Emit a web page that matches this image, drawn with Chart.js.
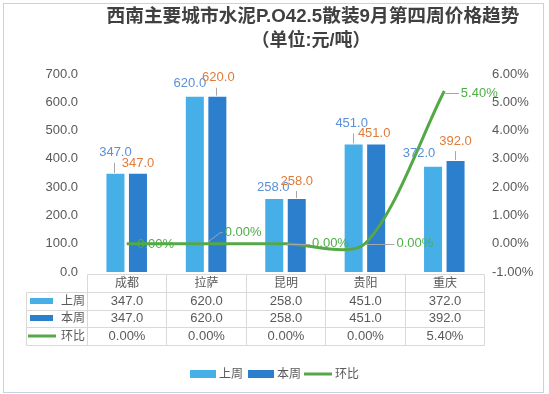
<!DOCTYPE html>
<html><head><meta charset="utf-8">
<script src="https://cdn.jsdelivr.net/npm/chart.js@4/dist/chart.umd.min.js"></script>
<style>html,body{margin:0;padding:0;background:#fff}#wrap{width:549px;height:394px;position:relative}canvas{display:block}</style>
</head><body><div id="wrap"><canvas id="c" width="549" height="394"></canvas></div>
<script>
// ---- data ----
const categories = ['成都', '拉萨', '昆明', '贵阳', '重庆'];
const lastWeek = [347.0, 620.0, 258.0, 451.0, 372.0];
const thisWeek = [347.0, 620.0, 258.0, 451.0, 392.0];
const changePct = [0.00, 0.00, 0.00, 0.00, 5.40];
const seriesNames = ['上周', '本周', '环比'];
const titleLines = ['西南主要城市水泥P.O42.5散装9月第四周价格趋势', '（单位:元/吨）'];
const leftAxis = { min: 0, max: 700, step: 100 };
const rightAxis = { min: -1, max: 6, step: 1 };

// ---- presentation ----
const C_LIGHT = '#47AFE8', C_DARK = '#2B7FCD', C_GREEN = '#55A847';
const C_TXT = '#595959', C_GRID = '#d9d9d9', C_LEAD = '#a6a6a6';
const LBL_BLUE = '#5B8FD6', LBL_ORANGE = '#E07B39', LBL_GREEN = '#4FAE48';
const FONT = 'Helvetica, Arial, "Liberation Sans", "Noto Sans CJK SC", sans-serif';
// label offsets [dx, dy, leader]
const offLast = [[0,-21,1],[-5,-13,0],[-1,-12,0],[-2,-21,1],[-14,-13,0]];
const offThis = [[0,-10,0],[1,-19,1],[0,-18,1],[-2,-11,0],[0,-20,1]];
const offLine = [[29,1,0],[37,-11,2],[45,0,1],[50,0,1],[35,2,1]];

const fmt1 = v => v.toFixed(1);
const fmtP = v => v.toFixed(2) + '%';

const decor = {
  id: 'decor',
  beforeDraw(chart) {
    const c = chart.ctx;
    c.save();
    c.fillStyle = '#fff';
    c.fillRect(0, 0, chart.width, chart.height);
    c.strokeStyle = '#c3d2e4';
    c.lineWidth = 1;
    c.strokeRect(3.5, 3.5, 540, 389);
    c.restore();
  },
  afterDraw(chart) {
    const c = chart.ctx;
    const xs = chart.scales.x;
    const area = chart.chartArea;
    c.save();
    // title
    c.fillStyle = '#404040';
    c.textAlign = 'center';
    c.textBaseline = 'middle';
    c.font = 'bold 18.7px ' + FONT;
    c.fillText(titleLines[0], 313, 17);
    c.font = 'bold 18px ' + FONT;
    c.fillText(titleLines[1], 311, 41);

    // data labels for bars
    c.font = '13px ' + FONT;
    const drawBarLabels = (dsIndex, vals, offs, color) => {
      const meta = chart.getDatasetMeta(dsIndex);
      meta.data.forEach((el, i) => {
        const [dx, dy, lead] = offs[i];
        const lx = el.x + dx, ly = el.y + dy;
        if (lead) {
          c.strokeStyle = C_LEAD; c.lineWidth = 1;
          c.beginPath();
          c.moveTo(Math.round(el.x) - 0.5, ly + 10);
          c.lineTo(Math.round(el.x) - 0.5, el.y - 1);
          c.stroke();
        }
        c.fillStyle = color;
        c.fillText(fmt1(vals[i]), lx, ly);
      });
    };
    drawBarLabels(0, lastWeek, offLast, LBL_BLUE);
    drawBarLabels(1, thisWeek, offThis, LBL_ORANGE);

    // line labels
    const lm = chart.getDatasetMeta(2);
    lm.data.forEach((el, i) => {
      const [dx, dy, lead] = offLine[i];
      const txt = fmtP(changePct[i]);
      const w = c.measureText(txt).width;
      const lx = el.x + dx, ly = el.y + dy;
      const left = lx - w / 2 - 2;
      c.strokeStyle = C_LEAD; c.lineWidth = 1;
      if (lead === 1) {
        c.beginPath();
        c.moveTo(el.x + 1, Math.round(ly) + 0.5);
        c.lineTo(left, Math.round(ly) + 0.5);
        c.stroke();
      } else if (lead === 2) {
        c.beginPath();
        c.moveTo(el.x + 1, el.y - 1);
        c.lineTo(el.x + 14, ly);
        c.lineTo(left, ly);
        c.stroke();
      }
      c.fillStyle = LBL_GREEN;
      c.fillText(txt, lx, ly);
    });

    // data table
    const tTop = 274.5, rowH = 17.5, tLeft = 26.5;
    const n = categories.length;
    const bounds = [];
    for (let i = 0; i <= n; i++) {
      if (i < n) {
        const px = xs.getPixelForValue(i);
        const half = (i + 1 < n ? xs.getPixelForValue(i + 1) - px : px - xs.getPixelForValue(i - 1)) / 2;
        bounds.push(Math.round(px - half) + 0.5);
      } else {
        bounds.push(Math.round(area.right) + 0.5);
      }
    }
    c.strokeStyle = C_GRID; c.lineWidth = 1;
    c.beginPath();
    c.moveTo(bounds[0], tTop); c.lineTo(bounds[n], tTop);
    for (let r = 1; r <= 4; r++) {
      const y = Math.round(tTop + r * rowH) + 0.5;
      c.moveTo(tLeft, y); c.lineTo(bounds[n], y);
    }
    const tBot = Math.round(tTop + 4 * rowH) + 0.5;
    c.moveTo(tLeft, Math.round(tTop + rowH) + 0.5); c.lineTo(tLeft, tBot);
    bounds.forEach(b => { c.moveTo(b, tTop); c.lineTo(b, tBot); });
    c.stroke();

    c.fillStyle = C_TXT;
    c.textAlign = 'center';
    const rowsVals = [lastWeek.map(fmt1), thisWeek.map(fmt1), changePct.map(fmtP)];
    for (let i = 0; i < n; i++) {
      const cx = (bounds[i] + bounds[i + 1]) / 2;
      c.font = '12px ' + FONT;
      c.fillText(categories[i], cx, tTop + rowH / 2 + 0.5);
      c.font = '13px ' + FONT;
      rowsVals.forEach((rv, r) => c.fillText(rv[i], cx, tTop + (r + 1.5) * rowH + 0.5));
    }
    // row headers
    c.textAlign = 'left';
    c.font = '12px ' + FONT;
    const keyColors = [C_LIGHT, C_DARK];
    for (let r = 0; r < 3; r++) {
      const cy = tTop + (r + 1.5) * rowH;
      if (r < 2) {
        c.fillStyle = keyColors[r];
        c.fillRect(30, Math.round(cy) - 3, 23, 6);
      } else {
        c.strokeStyle = C_GREEN; c.lineWidth = 3;
        c.beginPath(); c.moveTo(28, Math.round(cy)); c.lineTo(56, Math.round(cy)); c.stroke();
      }
      c.fillStyle = C_TXT;
      c.fillText(seriesNames[r], 61, cy + 0.5);
    }

    // legend
    const ly = 374;
    c.fillStyle = C_LIGHT; c.fillRect(190, ly - 4, 26, 8);
    c.fillStyle = C_DARK; c.fillRect(248, ly - 4, 26, 8);
    c.strokeStyle = C_GREEN; c.lineWidth = 3;
    c.beginPath(); c.moveTo(304, ly); c.lineTo(332, ly); c.stroke();
    c.fillStyle = C_TXT;
    c.fillText(seriesNames[0], 219, ly + 0.5);
    c.fillText(seriesNames[1], 277, ly + 0.5);
    c.fillText(seriesNames[2], 335, ly + 0.5);
    c.restore();
  }
};

new Chart(document.getElementById('c'), {
  data: {
    labels: categories,
    datasets: [
      { type: 'bar', label: seriesNames[0], data: lastWeek, yAxisID: 'y', backgroundColor: C_LIGHT,
        categoryPercentage: 0.567, barPercentage: 0.8, order: 1 },
      { type: 'bar', label: seriesNames[1], data: thisWeek, yAxisID: 'y', backgroundColor: C_DARK,
        categoryPercentage: 0.567, barPercentage: 0.8, order: 1 },
      { type: 'line', label: seriesNames[2], data: changePct, yAxisID: 'y1', borderColor: C_GREEN,
        backgroundColor: C_GREEN, borderWidth: 3, tension: 0.28, pointRadius: 0, fill: false, order: 0 }
    ]
  },
  options: {
    responsive: false,
    animation: false,
    devicePixelRatio: 1,
    layout: { padding: { top: 74, bottom: 122, left: 0, right: 0 } },
    plugins: { legend: { display: false }, tooltip: { enabled: false }, title: { display: false } },
    scales: {
      x: { display: false, offset: true },
      y: {
        position: 'left', min: leftAxis.min, max: leftAxis.max,
        grid: { display: false, drawTicks: false }, border: { display: false },
        ticks: { stepSize: leftAxis.step, callback: v => fmt1(v), color: C_TXT, padding: 9,
          font: { size: 13, family: FONT } },
        afterFit: s => { s.width = 87; }
      },
      y1: {
        position: 'right', min: rightAxis.min, max: rightAxis.max,
        grid: { display: false, drawTicks: false }, border: { display: false },
        ticks: { stepSize: rightAxis.step, callback: v => fmtP(v), color: C_TXT, padding: 8,
          font: { size: 13, family: FONT } },
        afterFit: s => { s.width = 65; }
      }
    }
  },
  plugins: [decor]
});
</script></body></html>
